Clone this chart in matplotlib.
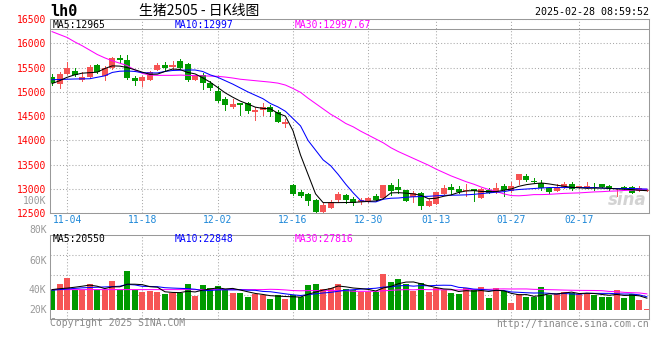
import matplotlib
matplotlib.use('Agg')
from matplotlib import pyplot as plt

plt.rcParams['font.family'] = ['DejaVu Sans Mono', 'Noto Sans CJK SC']

# daily bars, 2024-10-31 .. 2025-02-28
opens = [15297, 15160, 15378, 15426, 15242, 15297, 15563, 15317, 15488, 15706,
         15665, 15276, 15214, 15242, 15447, 15563, 15522, 15631, 15583, 15242,
         15337, 15173, 15010, 14853, 14682, 14764, 14771, 14593, 14634, 14682,
         14593, 14347, 13090, 12947, 12899, 12776, 12537, 12599, 12776, 12879,
         12797, 12742, 12742, 12858, 12824, 13090, 13043, 12981, 12831, 12926,
         12640, 12701, 12906, 13042, 13001, 12960, 13001, 12824, 12988, 12933,
         13070, 12960, 13193, 13275, 13172, 13131, 13022, 12960, 13042, 13111,
         13015, 13015, 13049, 13097, 13070, 12995, 13035, 13035, 12960, 12965]
highs = [15365, 15399, 15611, 15494, 15399, 15563, 15577, 15542, 15710, 15754,
         15768, 15331, 15317, 15426, 15590, 15611, 15631, 15686, 15590, 15345,
         15385, 15221, 15112, 14894, 14846, 14771, 14798, 14689, 14764, 14723,
         14620, 14443, 13111, 12988, 12926, 12804, 12715, 12783, 12940, 12892,
         12845, 12810, 12845, 12899, 13090, 13124, 13207, 12981, 12954, 12947,
         12797, 12947, 13077, 13104, 13056, 13104, 13001, 13015, 13022, 13131,
         13111, 13138, 13316, 13309, 13234, 13179, 13042, 13097, 13138, 13138,
         13070, 13145, 13118, 13104, 13080, 13022, 13070, 13070, 13070, 12995]
lows = [15133, 15078, 15378, 15317, 15228, 15283, 15385, 15235, 15480, 15590,
        15255, 15133, 15112, 15235, 15440, 15447, 15474, 15481, 15221, 15235,
        15057, 15037, 14784, 14627, 14661, 14518, 14566, 14422, 14532, 14511,
        14374, 14279, 12872, 12845, 12680, 12517, 12503, 12599, 12735, 12708,
        12667, 12687, 12742, 12749, 12824, 12872, 12926, 12749, 12742, 12585,
        12640, 12701, 12906, 12899, 12913, 12865, 12762, 12824, 12913, 12913,
        12865, 12933, 13097, 13159, 13118, 12988, 12926, 12960, 13015, 12974,
        13015, 13015, 12974, 13040, 12974, 12851, 13001, 12913, 12960, 12960]
closes = [15180, 15378, 15488, 15337, 15303, 15522, 15399, 15501, 15706, 15652,
          15276, 15221, 15303, 15406, 15563, 15501, 15563, 15501, 15242, 15337,
          15180, 15078, 14812, 14723, 14743, 14723, 14607, 14620, 14682, 14593,
          14374, 14374, 12899, 12858, 12749, 12537, 12674, 12735, 12906, 12776,
          12722, 12770, 12810, 12776, 13090, 12954, 12988, 12763, 12913, 12640,
          12749, 12947, 13022, 12988, 12947, 12981, 12960, 12995, 12926, 13022,
          12974, 13070, 13316, 13193, 13152, 13022, 12940, 13042, 13097, 13001,
          13070, 13070, 13022, 13049, 12995, 13022, 13015, 12926, 13015, 12985]

ma5 = [15170, 15230, 15300, 15350, 15385, 15395, 15405, 15480, 15535, 15530,
       15500, 15455, 15405, 15360, 15365, 15420, 15470, 15460, 15400, 15370,
       15290, 15200, 15090, 14980, 14890, 14810, 14750, 14685, 14660, 14650,
       14560, 14500, 14200, 13700, 13300, 12900, 12720, 12720, 12720, 12722,
       12725, 12735, 12745, 12756, 12800, 12920, 12925, 12915, 12900, 12870,
       12800, 12810, 12850, 12878, 12930, 12960, 12967, 12950, 12947, 12947,
       12975, 13001, 13056, 13090, 13110, 13124, 13105, 13080, 13056, 13035,
       13025, 13015, 13018, 13022, 13015, 13001, 12995, 12988, 12975, 12965]
ma10 = [15250, 15255, 15260, 15265, 15268, 15270, 15300, 15330, 15400, 15425,
        15430, 15420, 15395, 15390, 15390, 15420, 15440, 15445, 15450, 15450,
        15420, 15350, 15300, 15230, 15160, 15080, 15000, 14930, 14860, 14760,
        14690, 14600, 14450, 14300, 14000, 13800, 13600, 13480, 13300, 13100,
        12920, 12760, 12740, 12735, 12790, 12810, 12815, 12830, 12840, 12845,
        12850, 12860, 12870, 12872, 12875, 12880, 12890, 12905, 12920, 12935,
        12945, 12975, 12990, 13000, 13010, 13020, 13030, 13030, 13030, 13030,
        13030, 13030, 13030, 13020, 13010, 13010, 13010, 13010, 13005, 12997]
ma30 = [16240, 16180, 16120, 16030, 15950, 15860, 15770, 15700, 15640, 15590,
        15540, 15450, 15380, 15345, 15340, 15340, 15340, 15345, 15340, 15335,
        15330, 15325, 15320, 15305, 15285, 15260, 15245, 15230, 15215, 15200,
        15180, 15140, 15070, 14990, 14870, 14760, 14650, 14540, 14450, 14350,
        14280, 14190, 14110, 14030, 13950, 13850, 13770, 13700, 13630, 13560,
        13490, 13410, 13340, 13270, 13210, 13150, 13100, 13040, 12990, 12950,
        12900, 12865, 12860, 12870, 12885, 12885, 12890, 12900, 12910, 12915,
        12920, 12930, 12940, 12945, 12955, 12960, 12970, 12975, 12985, 12998]

# volume, thousand lots
volumes = [34.8, 44.4, 54.6, 34.8, 34.8, 44.4, 34.8, 34.8, 49.5, 34.8,
           66.4, 34.8, 30.9, 32.6, 30.9, 27.5, 29.2, 29.2, 44.4, 24.7,
           42.8, 37.7, 41.1, 34.3, 29.2, 29.2, 22.5, 27.5, 25.4, 19.1,
           25.4, 19.1, 25.4, 22.5, 42.8, 44.4, 36.0, 37.7, 44.4, 36.0,
           34.3, 30.9, 30.9, 30.9, 61.9, 47.8, 52.9, 45.0, 32.1, 46.1,
           30.9, 37.7, 33.8, 29.2, 27.5, 37.7, 33.8, 39.4, 20.8, 37.7,
           32.6, 12.3, 28.1, 22.5, 22.5, 39.4, 26.4, 27.5, 30.9, 29.2,
           27.5, 29.2, 25.4, 22.5, 22.5, 34.3, 20.8, 27.5, 17.4, 2.2]
vol_ma5 = [35.0, 36.5, 37.5, 39.0, 40.7, 42.6, 40.7, 36.7, 39.7, 39.7,
           44.1, 44.1, 43.3, 39.9, 39.1, 31.3, 30.2, 29.9, 32.2, 31.0,
           34.1, 35.8, 38.1, 36.1, 37.0, 34.3, 31.3, 28.5, 26.8, 24.7,
           24.0, 23.3, 22.9, 22.3, 27.0, 30.8, 34.2, 36.7, 41.1, 39.7,
           37.7, 36.7, 35.3, 32.6, 37.8, 40.5, 44.9, 47.7, 47.9, 44.8,
           41.4, 38.4, 36.1, 35.5, 31.8, 33.2, 32.4, 33.5, 31.8, 33.9,
           32.9, 28.6, 26.3, 26.6, 23.6, 25.0, 27.8, 27.7, 29.3, 30.7,
           28.3, 28.9, 28.4, 26.8, 25.4, 26.8, 25.1, 25.5, 24.5, 20.55]
vol_ma10 = [34.0, 35.0, 36.0, 37.0, 38.0, 38.5, 39.0, 39.5, 40.0, 40.7,
            43.8, 42.9, 40.5, 40.3, 39.9, 38.2, 37.6, 37.1, 36.6, 35.6,
            33.2, 33.5, 34.5, 34.7, 34.5, 34.7, 34.0, 33.8, 31.9, 31.4,
            29.6, 27.8, 26.2, 25.0, 26.4, 27.9, 29.3, 30.3, 32.2, 33.9,
            34.8, 35.9, 36.5, 37.3, 39.2, 39.6, 41.3, 42.0, 40.8, 41.8,
            41.4, 42.1, 42.4, 42.2, 38.8, 37.8, 35.9, 35.3, 34.2, 33.4,
            33.5, 31.0, 30.4, 29.7, 29.2, 29.4, 28.7, 27.5, 28.5, 27.6,
            27.1, 28.8, 28.6, 28.6, 28.6, 28.0, 27.5, 27.5, 26.1, 22.85]
vol_ma30 = [35.0, 35.0, 35.0, 35.0, 35.0, 35.0, 35.0, 35.0, 35.0, 35.0,
            35.0, 35.0, 35.0, 35.0, 35.0, 35.0, 35.0, 35.0, 35.0, 35.0,
            35.0, 35.0, 35.0, 35.0, 35.0, 35.0, 35.0, 35.0, 35.0, 35.5,
            35.2, 34.4, 33.4, 33.0, 33.3, 33.3, 33.3, 33.4, 33.2, 33.3,
            32.2, 32.1, 32.1, 32.0, 33.0, 33.7, 34.5, 35.0, 34.6, 35.3,
            34.9, 34.9, 34.7, 34.5, 34.5, 34.8, 35.1, 35.5, 35.4, 36.0,
            36.2, 36.0, 36.1, 36.1, 35.4, 35.3, 34.9, 34.6, 34.2, 33.9,
            33.7, 33.6, 33.5, 33.2, 31.9, 31.4, 30.3, 29.8, 29.3, 27.8]

tick_pos = [2, 12, 22, 32, 42, 51, 61, 70]
tick_labels = ['11-04', '11-18', '12-02', '12-16', '12-30', '01-13', '01-27', '02-17']
price_ticks = [12500, 13000, 13500, 14000, 14500, 15000, 15500, 16000, 16500]
vol_labels = ['100K', '80K', '60K', '40K', '20K']
vol_label_y = [201, 230, 261, 290, 310]

RED = '#F65454'
GREEN = '#009A00'
GRID = '#A8A8A8'
FRAME = '#999999'
W, H = 660, 360
LW = 0.75


def box(left, top, right, bottom):
    return [left / W, 1 - bottom / H, (right - left) / W, (bottom - top) / H]


fig = plt.figure(figsize=(6.6, 3.6), dpi=100)
ax = fig.add_axes(box(50, 19, 649, 213.3))
ax2 = fig.add_axes(box(50, 234.7, 649, 318.7))

x = list(range(len(closes)))
colors = [RED if c >= o else GREEN for o, c in zip(opens, closes)]

# price panel
ax.vlines(x, lows, highs, colors=colors, linewidth=0.7, antialiased=False)
body_low = [min(o, c) for o, c in zip(opens, closes)]
body_h = [max(abs(c - o), 18) for o, c in zip(opens, closes)]
ax.bar(x, body_h, 0.8, body_low, color=colors, linewidth=0)
ax.plot(x, ma30, color='#FF00FF', linewidth=LW)
ax.plot(x, ma10, color='#0000FF', linewidth=LW)
ax.plot(x, ma5, color='black', linewidth=LW)

ax.set_xlim(-0.27, 79.28)
ax.set_ylim(12500, 16500)
ax.set_yticks(price_ticks)
ax.set_xticks(tick_pos, tick_labels)
ax.tick_params(length=0, labelsize=7)
ax.tick_params(axis='y', colors='red', pad=2.4)
ax.tick_params(axis='x', colors='#1E88D8', pad=1.5)
ax.grid(True, color=GRID, linestyle=(0, (1, 2)), linewidth=LW)
ax.set_axisbelow(True)
for s in ax.spines.values():
    s.set_color(FRAME)
    s.set_linewidth(LW)
ax.plot([0, 1], [0.9485, 0.9485], transform=ax.transAxes, color=FRAME, linewidth=LW)

# volume panel
ax2.bar(x, volumes, 0.8, color=colors, linewidth=0)
ax2.plot(x, vol_ma30, color='#FF00FF', linewidth=LW)
ax2.plot(x, vol_ma10, color='#0000FF', linewidth=LW)
ax2.plot(x, vol_ma5, color='black', linewidth=LW)
ax2.set_xlim(-0.27, 79.28)
ax2.set_ylim(-14.2, 127.8)
ax2.set_xticks(tick_pos)
ax2.set_yticks([26.4, 59.7, 93.0])
ax2.tick_params(length=0, labelleft=False, labelbottom=False)
ax2.grid(True, color=GRID, linestyle=(0, (1, 2)), linewidth=LW)
ax2.set_axisbelow(True)
for s in ax2.spines.values():
    s.set_color(FRAME)
    s.set_linewidth(LW)

for lab, yy in zip(vol_labels, vol_label_y):
    fig.text(46.5 / W, 1 - yy / H, lab, ha='right', va='center', fontsize=7, color='#999999')

# header texts
fig.text(50 / W, 1 - 11 / H, 'lh0', fontsize=11, fontweight='bold', va='center')
fig.text(139 / W, 1 - 11 / H, '生猪2505 - 日K线图', fontsize=10, va='center',
         family=['Noto Sans CJK SC', 'DejaVu Sans'])
fig.text(649 / W, 1 - 12 / H, '2025-02-28 08:59:52', fontsize=7.2, ha='right', va='center')

fig.text(53 / W, 1 - 24.5 / H, 'MA5:12965', fontsize=7, color='black', va='center')
fig.text(175 / W, 1 - 24.5 / H, 'MA10:12997', fontsize=7, color='#0000FF', va='center')
fig.text(295 / W, 1 - 24.5 / H, 'MA30:12997.67', fontsize=7, color='#FF00FF', va='center')

fig.text(53 / W, 1 - 239.5 / H, 'MA5:20550', fontsize=7, color='black', va='center')
fig.text(175 / W, 1 - 239.5 / H, 'MA10:22848', fontsize=7, color='#0000FF', va='center')
fig.text(295 / W, 1 - 239.5 / H, 'MA30:27816', fontsize=7, color='#FF00FF', va='center')

fig.text(50 / W, 1 - 323 / H, 'Copyright 2025 SINA.COM', fontsize=7, color='#888888', va='center')
fig.text(649 / W, 1 - 324 / H, 'http://finance.sina.com.cn', fontsize=7, color='#888888',
         ha='right', va='center')

# watermark
fig.text(647 / W, 1 - 200 / H, 'sina', fontsize=12, color='#C8C8C8', ha='right', va='center',
         style='italic', fontweight='bold', family='DejaVu Sans', alpha=0.8)

fig.savefig('out.png', dpi=100)
